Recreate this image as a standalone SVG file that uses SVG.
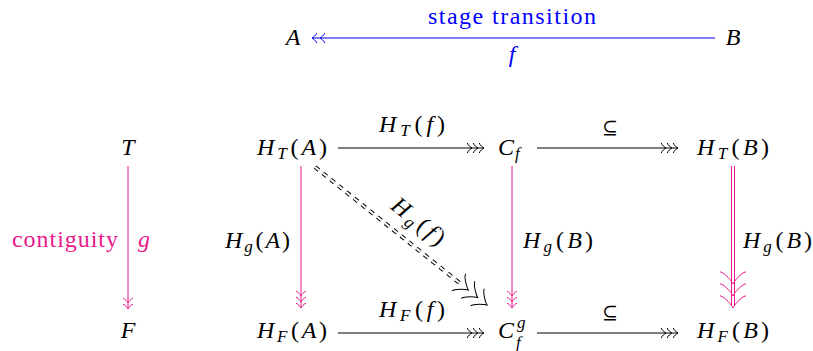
<svg xmlns="http://www.w3.org/2000/svg" width="813" height="351" viewBox="0 0 813 351" font-family="'Liberation Serif', 'DejaVu Serif', serif" font-size="24">
<style>
.m{font-style:italic}
.s{font-size:17px}
.blue{fill:#0000ff}
.pk{fill:#e8198c}
.ln{fill:none;stroke:#000;stroke-width:1}
.pl{fill:none;stroke:#e8198c;stroke-width:1}
.bl{fill:none;stroke:#0000ff;stroke-width:1}
.sub{font-size:19px}
</style>
<defs>
<marker id="h2b" markerUnits="userSpaceOnUse" orient="auto" overflow="visible" markerWidth="1" markerHeight="1" refX="0" refY="0">
<path d="M-4.7,-5 C-4.4,-3.1 -0.9,-0.3 0,0 C-0.9,0.3 -4.4,3.1 -4.7,5 M-12.7,-5 C-12.4,-3.1 -8.9,-0.3 -8,0 C-8.9,0.3 -12.4,3.1 -12.7,5" fill="none" stroke="#0000ff" stroke-width="1"/>
</marker>
<marker id="h3k" markerUnits="userSpaceOnUse" orient="auto" overflow="visible" markerWidth="1" markerHeight="1" refX="0" refY="0">
<path d="M-4.7,-5 C-4.4,-3.1 -0.9,-0.3 0,0 C-0.9,0.3 -4.4,3.1 -4.7,5 M-10.7,-5 C-10.4,-3.1 -6.9,-0.3 -6,0 C-6.9,0.3 -10.4,3.1 -10.7,5 M-16.7,-5 C-16.4,-3.1 -12.9,-0.3 -12,0 C-12.9,0.3 -16.4,3.1 -16.7,5" fill="none" stroke="#000" stroke-width="1"/>
</marker>
<marker id="h3p" markerUnits="userSpaceOnUse" orient="auto" overflow="visible" markerWidth="1" markerHeight="1" refX="0" refY="0">
<path d="M-4.7,-5 C-4.4,-3.1 -0.9,-0.3 0,0 C-0.9,0.3 -4.4,3.1 -4.7,5 M-10.7,-5 C-10.4,-3.1 -6.9,-0.3 -6,0 C-6.9,0.3 -10.4,3.1 -10.7,5 M-16.7,-5 C-16.4,-3.1 -12.9,-0.3 -12,0 C-12.9,0.3 -16.4,3.1 -16.7,5" fill="none" stroke="#e8198c" stroke-width="1"/>
</marker>
<marker id="h2p" markerUnits="userSpaceOnUse" orient="auto" overflow="visible" markerWidth="1" markerHeight="1" refX="0" refY="0">
<path d="M-4.7,-5 C-4.4,-3.1 -0.9,-0.3 0,0 C-0.9,0.3 -4.4,3.1 -4.7,5 M-10.7,-5 C-10.4,-3.1 -6.9,-0.3 -6,0 C-6.9,0.3 -10.4,3.1 -10.7,5" fill="none" stroke="#e8198c" stroke-width="1"/>
</marker>
<marker id="H3p" markerUnits="userSpaceOnUse" orient="auto" overflow="visible" markerWidth="1" markerHeight="1" refX="0" refY="0">
<path d="M-12.2,-13 C-11.4,-8.1 -2.4,-0.8 0,0 C-2.4,0.8 -11.4,8.1 -12.2,13 M-24.2,-13 C-23.4,-8.1 -14.4,-0.8 -12,0 C-14.4,0.8 -23.4,8.1 -24.2,13 M-36.2,-13 C-35.4,-8.1 -26.4,-0.8 -24,0 C-26.4,0.8 -35.4,8.1 -36.2,13" fill="none" stroke="#e8198c" stroke-width="1"/>
</marker>
<marker id="H3k" markerUnits="userSpaceOnUse" orient="auto" overflow="visible" markerWidth="1" markerHeight="1" refX="0" refY="0">
<path d="M-12.2,-11 C-11.4,-7 -2.4,-0.8 0,0 C-2.4,0.8 -11.4,7 -12.2,11 M-24.2,-11 C-23.4,-7 -14.4,-0.8 -12,0 C-14.4,0.8 -23.4,7 -24.2,11 M-36.2,-11 C-35.4,-7 -26.4,-0.8 -24,0 C-26.4,0.8 -35.4,7 -36.2,11" fill="none" stroke="#000" stroke-width="1"/>
</marker>
</defs>

<g id="connectors">
  <path class="bl" d="M715,38 H312" marker-end="url(#h2b)"/>
  <path class="ln" d="M338,148 H484" marker-end="url(#h3k)"/>
  <path class="ln" d="M537,148 H678" marker-end="url(#h3k)"/>
  <path class="ln" d="M338,333 H484" marker-end="url(#h3k)"/>
  <path class="ln" d="M537,333 H678" marker-end="url(#h3k)"/>
  <path class="pl" d="M128,166 V309" marker-end="url(#h2p)"/>
  <path class="pl" d="M301,166 V308" marker-end="url(#h3p)"/>
  <path class="pl" d="M512,166 V308" marker-end="url(#h3p)"/>
  <path d="M733,166 V306" fill="none" stroke="#e8198c" stroke-width="4"/>
  <path d="M733,166 V307" fill="none" stroke="#fff" stroke-width="2"/>
  <path d="M733,200 V308" fill="none" stroke="none" marker-end="url(#H3p)"/>
  <path d="M315,167 L463.2,285.9" fill="none" stroke="#000" stroke-width="4" stroke-dasharray="5 5"/>
  <path d="M315,167 L463.2,285.9" fill="none" stroke="#fff" stroke-width="2" stroke-dasharray="5 5"/>
  <path d="M315,167 L487,305" fill="none" stroke="none" marker-end="url(#H3k)"/>
</g>

<g id="labels">
  <text class="blue" x="512" y="24" text-anchor="middle" textLength="168" lengthAdjust="spacing">stage transition</text>
  <text class="blue m" x="512" y="62" text-anchor="middle">f</text>
  <text x="412" y="132" text-anchor="middle" textLength="66" lengthAdjust="spacing"><tspan class="m">H</tspan><tspan class="m s" dy="4">T</tspan><tspan dy="-4" dx="1">(</tspan><tspan class="m">f</tspan>)</text>
  <text class="sub" x="610" y="134" text-anchor="middle">⊆</text>
  <text x="412" y="317" text-anchor="middle" textLength="66" lengthAdjust="spacing"><tspan class="m">H</tspan><tspan class="m s" dy="4">F</tspan><tspan dy="-4" dx="1">(</tspan><tspan class="m">f</tspan>)</text>
  <text class="sub" x="610" y="319" text-anchor="middle">⊆</text>
  <text class="pk" x="12" y="247" textLength="106" lengthAdjust="spacing">contiguity</text>
  <text class="pk m" x="144" y="247" text-anchor="middle">g</text>
  <text x="290" y="248" text-anchor="end" textLength="65" lengthAdjust="spacing"><tspan class="m">H</tspan><tspan class="m s" dy="4">g</tspan><tspan dy="-4" dx="1">(</tspan><tspan class="m">A</tspan>)</text>
  <text x="523" y="248" textLength="70" lengthAdjust="spacing"><tspan class="m">H</tspan><tspan class="m s" dy="4">g</tspan><tspan dy="-4" dx="1">(</tspan><tspan class="m">B</tspan>)</text>
  <text x="743" y="248" textLength="69" lengthAdjust="spacing"><tspan class="m">H</tspan><tspan class="m s" dy="4">g</tspan><tspan dy="-4" dx="1">(</tspan><tspan class="m">B</tspan>)</text>
  <text transform="translate(418,222) rotate(38.74)" x="0" y="7" text-anchor="middle" textLength="62" lengthAdjust="spacing"><tspan class="m">H</tspan><tspan class="m s" dy="4">g</tspan><tspan dy="-4" dx="1">(</tspan><tspan class="m">f</tspan>)</text>
</g>

<g id="nodeA"><text class="m" x="293" y="45" text-anchor="middle">A</text></g>
<g id="nodeB"><text class="m" x="733" y="45" text-anchor="middle">B</text></g>
<g id="nodeT"><text class="m" x="128" y="155" text-anchor="middle">T</text></g>
<g id="nodeF"><text class="m" x="128" y="338" text-anchor="middle">F</text></g>
<g id="nodeHTA"><text x="292" y="155" text-anchor="middle" textLength="70" lengthAdjust="spacing"><tspan class="m">H</tspan><tspan class="m s" dy="4">T</tspan><tspan dy="-4" dx="1">(</tspan><tspan class="m">A</tspan>)</text></g>
<g id="nodeCf"><text x="498" y="155"><tspan class="m">C</tspan><tspan class="m s" dy="4" dx="1">f</tspan></text></g>
<g id="nodeHTB"><text x="733" y="155" text-anchor="middle" textLength="72" lengthAdjust="spacing"><tspan class="m">H</tspan><tspan class="m s" dy="4">T</tspan><tspan dy="-4" dx="1">(</tspan><tspan class="m">B</tspan>)</text></g>
<g id="nodeHFA"><text x="292" y="338" text-anchor="middle" textLength="70" lengthAdjust="spacing"><tspan class="m">H</tspan><tspan class="m s" dy="4">F</tspan><tspan dy="-4" dx="1">(</tspan><tspan class="m">A</tspan>)</text></g>
<g id="nodeCfg"><text class="m" x="498" y="338">C</text><text class="m s" x="517" y="328">g</text><text class="m s" x="516" y="348">f</text></g>
<g id="nodeHFB"><text x="733" y="338" text-anchor="middle" textLength="72" lengthAdjust="spacing"><tspan class="m">H</tspan><tspan class="m s" dy="4">F</tspan><tspan dy="-4" dx="1">(</tspan><tspan class="m">B</tspan>)</text></g>
</svg>
